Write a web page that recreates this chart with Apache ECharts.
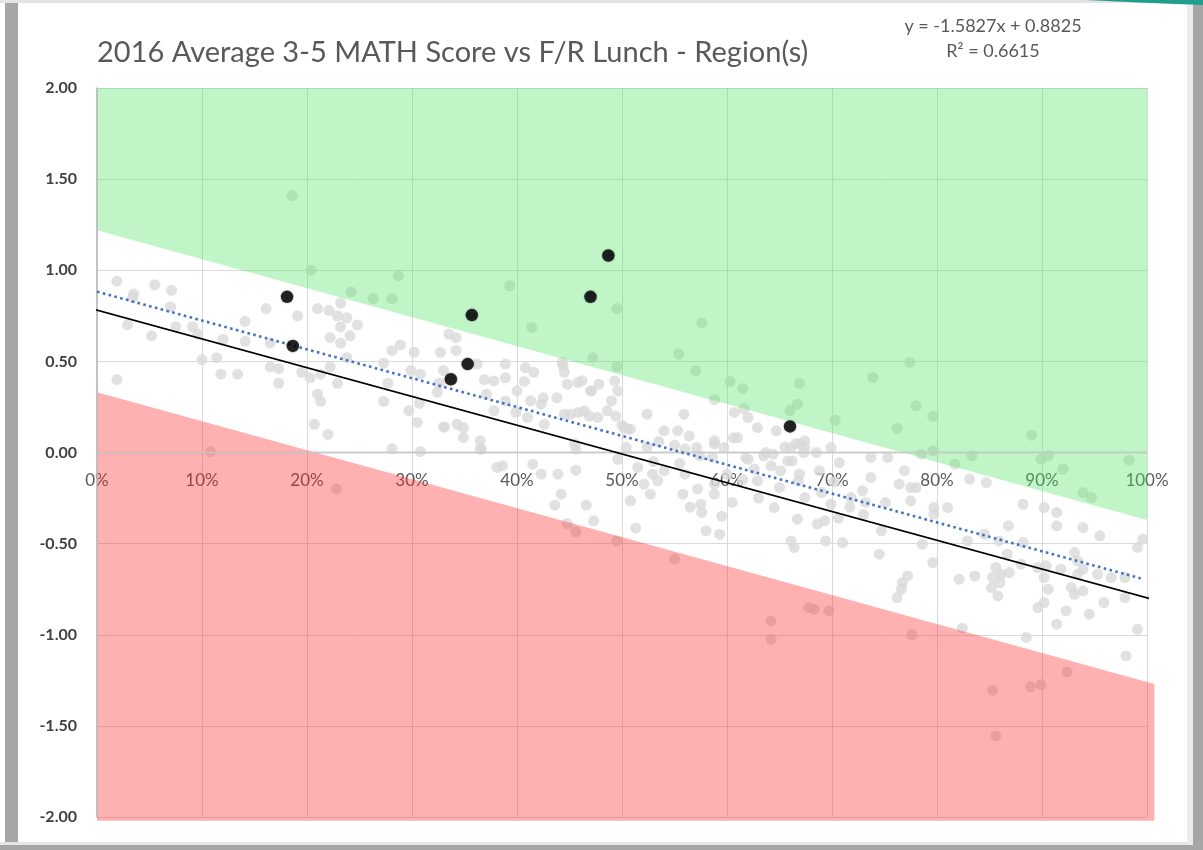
<!DOCTYPE html>
<html>
<head>
<meta charset="utf-8">
<script src="https://cdn.jsdelivr.net/npm/echarts@6/dist/echarts.min.js"></script>
<style>
  html, body { margin: 0; padding: 0; background: #ffffff; }
  #chart { width: 1203px; height: 850px; }
</style>
</head>
<body>
<div id="chart"></div>
<script>
// ---- Chart text and reference values ----
const chartTitle = '2016 Average 3-5 MATH Score vs F/R Lunch - Region(s)';
const trendSlope = -1.5827;
const trendIntercept = 0.8825;
const trendR2 = 0.6615;
const trendRange = [0, 0.994];            // F/R lunch share covered by the fitted line

const xTicks = [0, 0.1, 0.2, 0.3, 0.4, 0.5, 0.6, 0.7, 0.8, 0.9, 1.0];
const yTicks = [-2, -1.5, -1, -0.5, 0, 0.5, 1, 1.5, 2];

// Expected-performance line (solid black) and the bands around it
const expectedLine = [[-0.018, 0.81], [1.027, -0.84]];
const aboveBand = [[0, 2], [1, 2], [1, -0.37], [0, 1.22]];
const belowBand = [[0, 0.33], [1.007, -1.27], [1.007, -2.02], [0, -2.02]];

// All schools: [F/R lunch %, average 3-5 math score]
const allSchools = [
  [1.9, 0.94], [3.5, 0.87], [5.5, 0.92], [7.1, 0.89], [3.4, 0.85], [7.0, 0.80], [2.9, 0.70], [5.2, 0.64],
  [7.5, 0.69], [9.1, 0.69], [9.6, 0.65], [12.0, 0.62], [14.1, 0.72], [14.1, 0.61], [16.1, 0.79], [16.5, 0.60],
  [19.1, 0.75], [10.0, 0.51], [11.4, 0.52], [11.8, 0.43], [13.4, 0.43], [1.9, 0.40], [16.5, 0.47], [17.3, 0.46],
  [17.3, 0.38], [19.5, 0.44], [21.0, 0.79], [22.1, 0.78], [23.2, 0.82], [22.9, 0.75], [23.8, 0.74], [24.8, 0.70],
  [23.2, 0.69], [22.2, 0.63], [23.2, 0.60], [24.1, 0.64], [23.8, 0.52], [22.2, 0.47], [21.3, 0.43], [20.3, 0.41],
  [21.0, 0.32], [21.3, 0.28], [22.9, 0.38], [20.7, 0.155], [22.0, 0.10], [27.3, 0.28], [27.3, 0.49], [28.1, 0.56],
  [28.9, 0.59], [30.2, 0.55], [27.7, 0.38], [29.9, 0.45], [30.8, 0.43], [29.7, 0.23], [30.5, 0.165], [30.7, 0.27],
  [32.4, 0.33], [32.7, 0.55], [33.0, 0.45], [33.0, 0.14], [33.5, 0.65], [32.6, 0.38],
  [18.6, 1.41], [20.4, 1.0], [28.7, 0.97], [24.2, 0.88], [26.3, 0.845], [28.1, 0.845],
  [10.8, 0.005], [22.8, -0.20], [28.1, 0.02], [30.8, 0.005],
  [39.3, 0.915], [49.5, 0.79], [41.4, 0.686], [57.6, 0.71], [47.2, 0.52], [49.5, 0.47], [55.4, 0.54], [57.0, 0.45],
  [60.3, 0.39], [61.5, 0.35], [66.9, 0.38], [66.7, 0.265], [66.0, 0.23], [58.8, 0.29], [61.6, 0.24],
  [34.2, 0.63], [34.2, 0.56], [36.2, 0.485], [36.9, 0.40], [38.9, 0.485], [38.9, 0.41], [40.8, 0.466], [41.6, 0.44],
  [40.7, 0.39], [44.3, 0.494], [44.5, 0.44], [45.8, 0.384], [47.0, 0.338], [47.8, 0.375], [49.3, 0.393], [49.0, 0.284],
  [49.6, 0.338], [43.8, 0.30], [40.0, 0.338], [41.3, 0.284], [42.3, 0.265], [37.8, 0.229], [39.9, 0.22], [41.0, 0.192],
  [42.6, 0.155], [44.5, 0.21], [45.8, 0.22], [46.4, 0.229], [47.7, 0.192], [48.6, 0.229], [50.2, 0.137], [50.8, 0.128],
  [52.4, 0.21], [54.0, 0.119], [55.3, 0.119], [55.9, 0.21], [56.4, 0.091], [58.8, 0.064], [60.7, 0.22], [61.0, 0.082],
  [62.0, 0.192], [62.9, 0.137], [64.7, 0.119], [67.4, 0.064], [34.3, 0.155], [34.9, 0.082], [36.5, 0.064],
  [37.1, 0.32], [38.9, 0.283], [42.5, 0.30], [44.8, 0.375], [46.2, 0.394], [45.1, 0.21], [46.9, 0.20], [37.8, 0.393],
  [44.4, 0.477], [47.1, 0.338], [33.1, 0.14], [34.9, 0.137], [36.6, 0.018], [45.5, 0.046],
  [77.4, 0.494], [73.9, 0.412], [78.0, 0.256], [79.6, 0.198], [70.3, 0.177], [76.2, 0.132], [89.0, 0.095],
  [98.3, -0.042], [78.5, -0.009], [79.6, 0.009], [81.7, -0.064], [83.3, -0.018], [89.9, -0.037], [90.6, -0.018],
  [92.0, -0.091], [93.9, -0.22], [94.7, -0.247],
  [49.4, 0.20], [50.0, 0.15], [50.5, 0.13], [52.4, 0.03], [57.1, 0.027], [58.6, -0.027], [59.7, 0.027], [60.6, 0.08],
  [61.8, -0.03], [62.6, -0.09], [63.7, 0.0], [65.5, 0.03], [66.6, 0.05], [67.3, 0.0], [53.5, 0.06], [55.0, 0.04],
  [56.0, 0.02], [67.0, 0.047], [65.1, -0.1], [66.8, -0.155], [66.2, -0.046], [64.4, -0.009], [62.9, -0.155],
  [68.5, 0.0], [69.9, 0.027], [70.7, -0.055], [73.7, -0.027], [75.3, -0.027], [76.9, -0.1], [76.4, -0.174], [77.5, -0.192],
  [73.7, -0.137], [72.9, -0.21], [73.2, -0.274], [71.8, -0.247], [69.0, -0.22], [68.6, -0.393], [69.3, -0.375], [69.9, -0.284],
  [69.4, -0.485], [71.0, -0.494], [74.7, -0.43], [75.1, -0.274], [74.5, -0.558], [77.5, -0.265], [78.0, -0.192], [79.7, -0.302],
  [79.7, -0.338], [81.0, -0.302], [79.6, -0.604], [78.6, -0.503], [76.7, -0.714], [77.2, -0.677], [76.6, -0.75], [76.2, -0.796],
  [83.1, -0.146], [84.7, -0.165], [88.2, -0.284], [90.2, -0.302], [91.4, -0.329], [91.4, -0.402], [86.8, -0.402], [84.5, -0.448],
  [82.9, -0.485], [85.9, -0.485], [86.7, -0.558], [88.2, -0.494], [85.6, -0.631], [86.1, -0.668], [86.9, -0.659], [85.3, -0.686],
  [85.2, -0.741], [86.0, -0.714], [85.8, -0.787], [83.6, -0.677], [82.1, -0.695], [88.0, -0.613], [89.6, -0.631], [90.4, -0.622],
  [90.2, -0.686], [90.6, -0.75], [90.2, -0.823], [89.6, -0.851], [88.5, -1.015], [91.4, -0.942], [92.3, -0.869], [91.8, -0.64],
  [93.1, -0.549], [93.4, -0.595], [92.8, -0.741], [93.1, -0.778], [93.9, -0.759], [93.9, -0.64], [93.4, -0.668], [93.9, -0.412],
  [95.5, -0.457], [95.3, -0.668], [95.9, -0.823], [94.5, -0.887], [96.6, -0.686], [97.9, -0.686], [97.9, -0.796], [98.0, -1.116],
  [99.1, -0.521], [99.6, -0.476], [100.1, -0.448], [100.1, -0.741], [100.1, -0.887], [99.1, -0.97],
  [68.8, -0.10], [70.2, -0.16], [71.7, -0.30], [73.0, -0.34], [70.6, -0.36],
  [68.3, -0.86], [69.7, -0.869], [77.6, -1.0], [82.4, -0.964], [85.3, -1.304], [85.6, -1.555], [88.9, -1.286], [89.9, -1.275],
  [92.4, -1.204], [100.1, -1.29],
  [36.5, 0.018], [38.1, -0.082], [38.6, -0.073], [41.5, -0.064], [42.3, -0.119], [43.9, -0.119], [45.6, -0.097], [45.6, 0.018],
  [44.2, -0.229], [43.6, -0.289], [46.6, -0.289], [47.3, -0.375], [44.8, -0.39], [45.6, -0.434], [49.5, -0.485], [51.3, -0.415],
  [50.8, -0.265], [49.6, -0.037], [50.4, 0.027], [51.5, -0.082], [52.1, -0.174], [52.7, -0.229], [53.4, -0.155], [52.9, -0.119],
  [54.0, -0.1], [55.0, -0.585], [55.8, -0.229], [56.0, -0.119], [57.2, -0.2], [57.5, -0.284], [57.6, -0.329], [58.0, -0.43],
  [59.3, -0.448], [58.8, -0.229], [58.8, -0.174], [57.4, -0.018], [58.8, 0.046], [60.5, -0.274], [62.0, -0.037], [63.5, -0.018],
  [64.2, -0.073], [65.0, -0.192], [64.5, -0.302], [66.7, -0.366], [66.1, -0.485], [66.4, -0.521], [65.8, -0.046], [66.9, -0.119],
  [67.4, -0.247], [64.2, -0.924], [64.2, -1.025], [67.8, -0.851], [67.4, 0.027], [66.1, 0.027],
  [53.0, -0.05], [55.5, -0.06], [60.0, -0.12], [61.5, -0.15], [63.0, -0.25], [56.5, -0.30], [59.5, -0.35]
];

// Schools in the selected region(s)
const regionSchools = [
  [18.1, 0.854], [18.65, 0.585], [33.7, 0.402], [35.3, 0.485],
  [35.7, 0.754], [47.0, 0.854], [48.7, 1.081], [66.0, 0.143]
];

// ---- Build the chart ----
const GRID = { left: 97, right: 56, top: 88, bottom: 33 };
const gridHeight = 850 - GRID.top - GRID.bottom;
const yMin = yTicks[0], yMax = yTicks[yTicks.length - 1];
// lift the category axis from the bottom edge up to the zero line
const zeroOffset = -gridHeight * (0 - yMin) / (yMax - yMin);

const toShare = p => [p[0] / 100, p[1]];
const trendLine = trendRange.map(x => [x, trendIntercept + trendSlope * x]);
const bands = [
  { pts: aboveBand, fill: 'rgba(85, 228, 106, 0.37)' },
  { pts: belowBand, fill: 'rgba(255, 40, 40, 0.37)' }
];
const sign = v => (v < 0 ? '- ' + Math.abs(v) : '+ ' + v);
const eqText = 'y = ' + trendSlope + 'x ' + sign(trendIntercept);
const r2Text = 'R\u00B2 = ' + trendR2;

const FONT = 'Lato, "Open Sans", "DejaVu Sans", sans-serif';
const chart = echarts.init(document.getElementById('chart'), null, { renderer: 'canvas' });

chart.setOption({
  backgroundColor: '#ffffff',
  animation: false,
  title: {
    text: chartTitle,
    left: 97, top: 38, padding: 0,
    textStyle: { fontFamily: FONT, fontSize: 29, fontWeight: 'normal', color: '#595959' }
  },
  grid: Object.assign({ containLabel: false, outerBoundsMode: 'none' }, GRID),
  xAxis: {
    type: 'value', min: xTicks[0], max: xTicks[xTicks.length - 1], interval: 0.1,
    position: 'bottom', offset: zeroOffset,
    axisLine: { show: true, onZero: false, lineStyle: { color: '#cfcfcf', width: 1.3 } },
    axisTick: { show: false },
    axisLabel: {
      margin: 20, fontFamily: FONT, fontSize: 17, color: '#595959',
      formatter: v => Math.round(v * 100) + '%'
    },
    splitLine: { show: true, lineStyle: { color: '#d9d9d9', width: 1 } }
  },
  yAxis: {
    type: 'value', min: yMin, max: yMax, interval: 0.5,
    axisLine: { show: true, lineStyle: { color: '#bfbfbf', width: 1.5 } },
    axisTick: { show: false },
    axisLabel: {
      margin: 20, fontFamily: FONT, fontSize: 16, fontWeight: 'bold', color: '#404040',
      formatter: v => v.toFixed(2)
    },
    splitLine: { show: true, lineStyle: { color: '#d9d9d9', width: 1 } }
  },
  series: [
    {
      name: 'All schools', type: 'scatter', z: 2, silent: true,
      data: allSchools.map(toShare),
      symbolSize: 11,
      itemStyle: { color: '#d9d9d9' }
    },
    {
      name: 'Bands', type: 'custom', z: 3, silent: true, clip: false,
      data: bands.map((b, i) => [i, 0]),
      encode: { x: -1, y: -1 },
      renderItem: (params, api) => {
        const band = bands[params.dataIndex];
        return {
          type: 'polygon',
          shape: { points: band.pts.map(p => api.coord(p)) },
          style: { fill: band.fill, stroke: null }
        };
      }
    },
    {
      name: 'Expected', type: 'line', z: 5, silent: true, clip: false,
      data: expectedLine, symbol: 'none',
      lineStyle: { color: '#000000', width: 1.7 },
      markLine: {
        silent: true, symbol: 'none', label: { show: false }, animation: false,
        data: [
          { yAxis: 0, lineStyle: { color: '#c8c8c8', width: 1.3, type: 'solid' } },
          { xAxis: 0, lineStyle: { color: '#bfbfbf', width: 1.5, type: 'solid' } }
        ]
      }
    },
    {
      name: 'Linear fit', type: 'line', z: 5, silent: true,
      data: trendLine, symbol: 'none',
      lineStyle: { color: '#4472c4', width: 2.6, type: [2.6, 3.4] }
    },
    {
      name: 'Region', type: 'scatter', z: 6, silent: true,
      data: regionSchools.map(toShare),
      symbolSize: 12.5,
      itemStyle: { color: '#000000', shadowBlur: 2, shadowColor: 'rgba(0,0,0,0.45)' }
    }
  ],
  graphic: [
    { type: 'text', x: 993, y: 26, z: 10,
      style: { text: eqText, x: 0, y: 0, align: 'center', verticalAlign: 'middle',
               font: '18px ' + FONT, fill: '#595959' } },
    { type: 'text', x: 993, y: 51, z: 10,
      style: { text: r2Text, x: 0, y: 0, align: 'center', verticalAlign: 'middle',
               font: '18px ' + FONT, fill: '#595959' } },
    // frame around the sheet
    { type: 'rect', z: 20, shape: { x: 0, y: 0, width: 1203, height: 3 }, style: { fill: '#e4e4e4' } },
    { type: 'rect', z: 20, shape: { x: 5, y: 3, width: 13, height: 847 }, style: { fill: '#a6a6a6' } },
    { type: 'rect', z: 20, shape: { x: 0, y: 842, width: 1203, height: 3 }, style: { fill: '#e6e6e6' } },
    { type: 'rect', z: 21, shape: { x: 0, y: 845, width: 1203, height: 5 }, style: { fill: '#a6a6a6' } },
    { type: 'rect', z: 20, shape: { x: 1187, y: 3, width: 6, height: 842 }, style: { fill: '#ececec' } },
    { type: 'rect', z: 21, shape: { x: 1193, y: 3, width: 10, height: 847 }, style: { fill: '#a6a6a6' } },
    { type: 'polygon', z: 22, shape: { points: [[1085, 0], [1203, 0], [1203, 5], [1150, 3]] }, style: { fill: '#1f9e8c' } }
  ]
});
</script>
</body>
</html>
